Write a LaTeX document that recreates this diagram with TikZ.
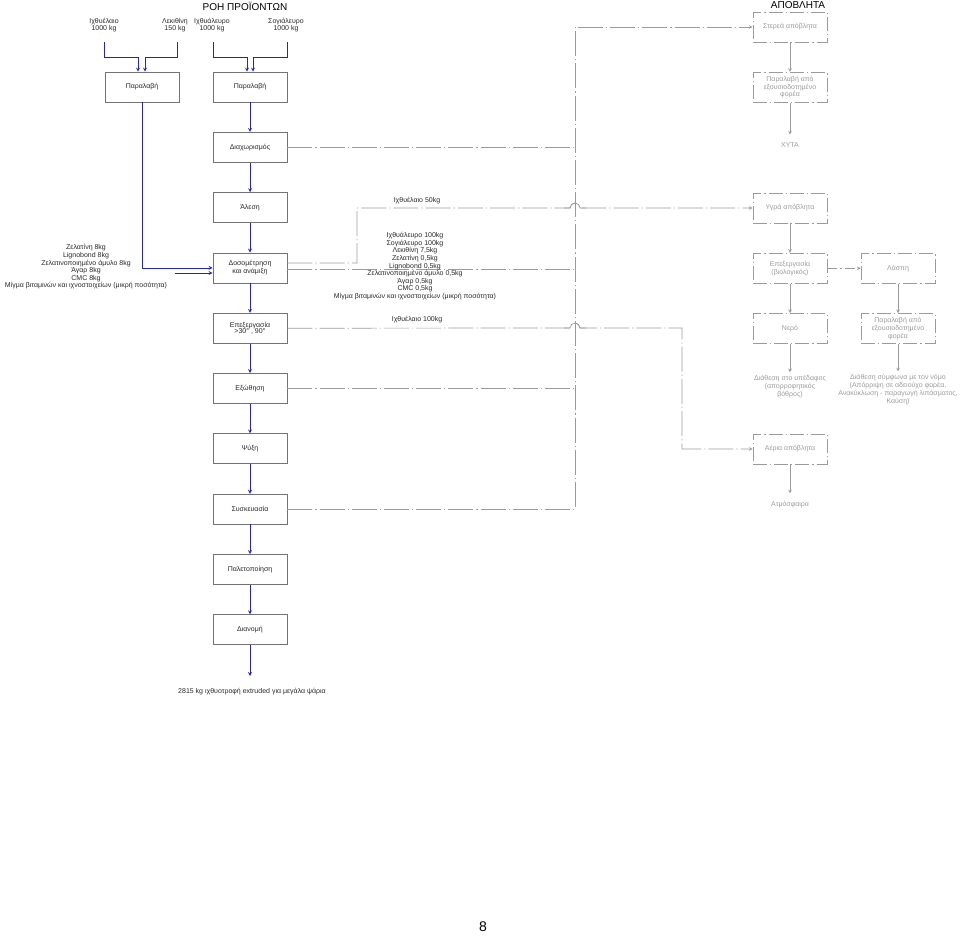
\documentclass[tikz,border=0pt]{standalone}
\usepackage{fontspec}
\setmainfont{Liberation Sans}
\usetikzlibrary{positioning, arrows}
\definecolor{flowblue}{RGB}{35,35,205}
\definecolor{boxgray}{RGB}{115,115,115}
\definecolor{wastegray}{RGB}{155,155,155}
\definecolor{textgray}{RGB}{40,40,40}
\tikzset{
  >=stealth,
  node distance=60.3pt,
  dashdot/.style={dash pattern=on 25pt off 3pt on 1.2pt off 3pt},
  proc/.style={draw=boxgray, line width=0.7pt, minimum width=74pt, minimum height=30pt,
    inner sep=1pt, align=center, text=textgray, font=\fontsize{7}{6.5}\selectfont},
  waste/.style={draw=wastegray, line width=0.7pt, dash pattern=on 14pt off 3pt on 1.2pt off 3pt,
    text=wastegray, minimum width=74pt, minimum height=30pt, inner sep=1pt, align=center,
    font=\fontsize{7}{6.5}\selectfont},
  lbl/.style={align=center, inner sep=0pt, text=textgray, font=\fontsize{7}{6}\selectfont},
  wlbl/.style={lbl, text=wastegray},
  title/.style={inner sep=0pt, font=\fontsize{10}{10}\selectfont},
  flow/.style={->, flowblue, line width=0.8pt},
  wline/.style={wastegray, line width=0.7pt, dashdot},
  warrow/.style={->, wastegray, line width=0.7pt},
}
\begin{document}
\begin{tikzpicture}[x=1pt, y=-1pt]
  \useasboundingbox (0,0) rectangle (960,938);

  % product flow
  \node[title] (ttl) at (245,6) {ΡΟΗ ΠΡΟΪΟΝΤΩΝ};
  \node[lbl] (in1) at (104,25) {Ιχθυέλαιο\\1000 kg};
  \node[lbl] (in2) at (175,25) {Λεκιθίνη\\150 kg};
  \node[lbl] (in3) at (212,25) {Ιχθυάλευρο\\1000 kg};
  \node[lbl] (in4) at (286,25) {Σογιάλευρο\\1000 kg};

  \node[proc] (rec1) at (142,87) {Παραλαβή};
  \node[proc] (rec2) at (250,87) {Παραλαβή};
  \node[proc, below of=rec2] (sep)  {Διαχωρισμός};
  \node[proc, below of=sep]  (mill) {Άλεση};
  \node[proc, below of=mill] (dos)  {Δοσομέτρηση\\και ανάμιξη};
  \node[proc, below of=dos]  (heat) {Επεξεργασία\\>30° , 90°};
  \node[proc, below of=heat] (ext)  {Εξώθηση};
  \node[proc, below of=ext]  (cool) {Ψύξη};
  \node[proc, below of=cool] (pack) {Συσκευασία};
  \node[proc, below of=pack] (pal)  {Παλετοποίηση};
  \node[proc, below of=pal]  (dist) {Διανομή};
  \coordinate (end) at (250,676);
  \node[lbl] (prod) at (252,692) {2815 kg ιχθυοτροφή extruded για μεγάλα ψάρια};

  \node[lbl] (ing1) at (86,267) {Ζελατίνη 8kg\\Lignobond 8kg\\Ζελατινοποιημένο άμυλο 8kg\\Άγαρ 8kg\\CMC 8kg\\Μίγμα βιταμινών και ιχνοστοιχείων (μικρή ποσότητα)};
  \coordinate (ingout) at (175,273);

  % inputs
  \coordinate (t1) at (138,57);
  \coordinate (t2) at (145,57);
  \coordinate (t3) at (247,57);
  \coordinate (t4) at (253,57);
  \draw[flow] ([yshift=-10pt]in1.south) |- (t1) -- (t1 |- rec1.north);
  \draw[flow] ([yshift=-10pt]in2.south -| 177,0) |- (t2) -- (t2 |- rec1.north);
  \draw[flow] ([yshift=-10pt]in3.south -| 213,0) |- (t3) -- (t3 |- rec2.north);
  \draw[flow] ([yshift=-10pt]in4.south -| 287,0) |- (t4) -- (t4 |- rec2.north);

  \draw[flow] (rec1.south) |- (dos.west);
  \draw[flow] (ingout) -- (ingout -| dos.west);
  \draw[flow] (rec2) -- (sep);
  \draw[flow] (sep) -- (mill);
  \draw[flow] (mill) -- (dos);
  \draw[flow] (dos) -- (heat);
  \draw[flow] (heat) -- (ext);
  \draw[flow] (ext) -- (cool);
  \draw[flow] (cool) -- (pack);
  \draw[flow] (pack) -- (pal);
  \draw[flow] (pal) -- (dist);
  \draw[flow] (dist) -- (end);

  % waste
  \node[title] (wttl) at (798,5) {ΑΠΟΒΛΗΤΑ};
  \node[waste] (sol) at (790,27) {Στερεά απόβλητα};
  \node[waste, below of=sol] (solcar) {Παραλαβή από\\εξουσιοδοτημένο\\φορέα};
  \node[wlbl, below of=solcar, node distance=58pt] (landfill) {ΧΥΤΑ};
  \node[waste] (liq) at (790,208) {Υγρά απόβλητα};
  \node[waste, below of=liq] (bio) {Επεξεργασία\\(βιολογικός)};
  \node[waste, right of=bio, node distance=108pt] (sludge) {Λάσπη};
  \node[waste, below of=bio] (water) {Νερό};
  \node[waste, below of=sludge] (sludcar) {Παραλαβή από\\εξουσιοδοτημένο\\φορέα};
  \node[wlbl, below of=water, node distance=58pt] (soil) {Διάθεση στο υπέδαφος\\(απορροφητικός\\βόθρος)};
  \node[wlbl, below of=sludcar, node distance=61pt] (law) {Διάθεση σύμφωνα με τον νόμο\\(Απόρριψη σε αδειούχο φορέα,\\Ανακύκλωση - παραγωγή λιπάσματος,\\Καύση)};
  \node[waste] (gas) at (790,449) {Αέρια απόβλητα};
  \node[wlbl, below of=gas, node distance=56pt] (atm) {Ατμόσφαιρα};

  \draw[warrow] (sol) -- (solcar);
  \draw[warrow] (solcar) -- ([yshift=8pt]landfill.north);
  \draw[warrow] (liq) -- (bio);
  \draw[warrow, dash pattern=on 10pt off 3pt on 1.2pt off 3pt] (bio) -- (sludge);
  \draw[warrow] (bio) -- (water);
  \draw[warrow] (sludge) -- (sludcar);
  \draw[warrow] (water) -- ([yshift=3pt]soil.north);
  \draw[warrow] (sludcar) -- ([yshift=3pt]law.north);
  \draw[warrow] (gas) -- ([yshift=8pt]atm.north);

  % waste lines from process
  \coordinate (jt) at (575,27);
  \coordinate (b50) at (357,208);
  \coordinate (h50) at (570,208);
  \coordinate (h100) at (570,328);
  \coordinate (b100) at (682,449);
  \draw[wline, ->] (pack.east) -| (jt) -- (sol.west);
  \draw[wline] (sep.east) -- (sep.east -| jt);
  \draw[wline] ([yshift=-1pt]dos.east) -- ([yshift=-1pt]dos.east -| jt);
  \draw[wline] (ext.east) -- (ext.east -| jt);
  \draw[wline, ->] ([yshift=5pt]dos.east) -| (b50) -- (h50) arc (180:0:5pt) -- (liq.west);
  \draw[wline, ->] (heat.east) -- (h100) arc (180:0:5pt) -| (b100) -- (gas.west);
  % humps drawn solid
  \draw[wastegray, line width=0.7pt] ([xshift=-6pt]h50) -- (h50) arc (180:0:5pt) -- ++(6pt,0);
  \draw[wastegray, line width=0.7pt] ([xshift=-6pt]h100) -- (h100) arc (180:0:5pt) -- ++(6pt,0);
  \node[lbl] (oil50) at (417,201) {Ιχθυέλαιο 50kg};
  \node[lbl] (oil100) at (417,320) {Ιχθυέλαιο 100kg};
  \node[lbl] (ing2) at (415,266) {Ιχθυάλευρο 100kg\\Σογιάλευρο 100kg\\Λεκιθίνη 7,5kg\\Ζελατίνη 0,5kg\\Lignobond 0,5kg\\Ζελατινοποιημένο άμυλο 0,5kg\\Άγαρ 0,5kg\\CMC 0,5kg\\Μίγμα βιταμινών και ιχνοστοιχείων (μικρή ποσότητα)};

  \node[inner sep=0pt, font=\fontsize{14}{14}\selectfont] (page) at (483,927) {8};
\end{tikzpicture}
\end{document}
